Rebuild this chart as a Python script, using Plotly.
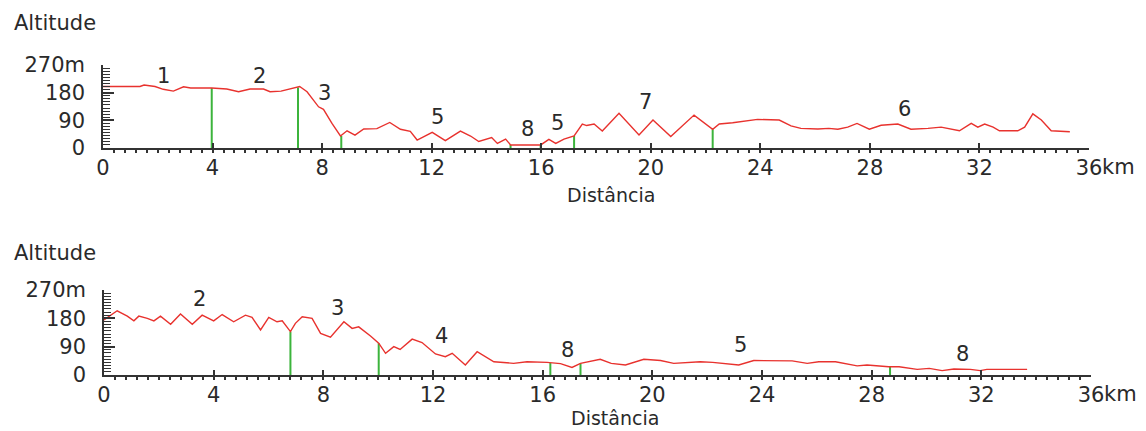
import plotly.graph_objects as go

# ---------- data: top profile ----------
top_km = [0, 1.35, 1.5, 1.9, 2.2, 2.57, 2.94, 3.2, 3.97, 4.52, 4.95, 5.37, 5.86, 6.1, 6.5, 6.96, 7.18,
          7.45, 7.87, 8.05, 8.36, 8.67, 8.91, 9.2, 9.52, 10.0, 10.47, 10.86, 11.22, 11.47, 11.75,
          12.02, 12.5, 13.05, 13.42, 13.72, 14.19, 14.4, 14.7, 14.88, 15.98, 16.28, 16.53, 16.83,
          17.2, 17.5, 17.66, 17.93, 18.23, 18.84, 19.57, 20.08, 20.73, 21.58, 22.26, 22.5, 22.99,
          23.47, 23.9, 24.69, 25.12, 25.48, 26.1, 26.5, 26.83, 27.19, 27.53, 27.98, 28.41, 29.02,
          29.5, 30.12, 30.6, 31.27, 31.7, 31.94, 32.19, 32.5, 32.73, 33.4, 33.65, 33.95, 34.26,
          34.62, 35.3]
top_alt = [200, 200, 205, 200, 191, 185, 199, 195, 195, 192, 183, 192, 192, 183, 185, 195, 200,
           183, 134, 126, 80, 39, 56, 42, 62, 63, 83, 61, 54, 26, 38,
           51, 24, 55, 39, 21, 34, 15, 29, 10, 10, 28, 15, 29,
           39, 78, 73, 78, 55, 113, 42, 91, 37, 107, 61, 78, 82,
           89, 93, 91, 72, 64, 62, 64, 61, 68, 80, 61, 74, 78,
           61, 64, 68, 56, 80, 68, 78, 68, 56, 56, 68, 111, 91,
           56, 53]
top_mark_km = [3.97, 7.12, 8.7, 14.88, 15.98, 17.2, 22.26]
top_mark_alt = [195, 197, 39, 10, 10, 39, 61]
top_lab_text = ["1", "2", "3", "5", "8", "5", "7", "6"]
top_lab_km = [2.2, 5.7, 8.1, 12.2, 15.5, 16.6, 19.8, 29.25]
top_lab_alt = [235, 235, 180, 100, 62, 80, 148, 128]

# ---------- data: bottom profile ----------
bot_km = [0, 0.48, 0.85, 1.09, 1.27, 1.58, 1.82, 2.06, 2.43, 2.79, 3.22, 3.58, 4.0, 4.31, 4.73,
          5.16, 5.4, 5.71, 6.01, 6.31, 6.5, 6.8, 6.98, 7.23, 7.59, 7.9, 8.26, 8.75, 9.05, 9.29,
          9.72, 10.02, 10.27, 10.57, 10.8, 11.24, 11.6, 12.09, 12.45, 12.7, 13.18, 13.61, 14.22,
          14.94, 15.43, 16.16, 16.65, 17.07, 17.38, 18.1, 18.5, 19.02, 19.69, 20.3, 20.78, 21.75,
          22.2, 23.15, 23.7, 24.6, 25.1, 25.65, 26.07, 26.68, 27.47, 27.83, 28.62, 29.0, 29.66,
          30.1, 30.57, 31.0, 31.6, 31.96, 32.2, 33.67]
bot_alt = [175, 204, 187, 172, 187, 180, 172, 187, 161, 194, 161, 190, 172, 192, 169,
           190, 183, 143, 183, 169, 172, 138, 164, 185, 180, 132, 120, 169, 148, 153,
           124, 101, 69, 90, 81, 114, 103, 67, 58, 69, 32, 74, 42,
           37, 42, 40, 36, 24, 37, 50, 37, 32, 50, 46, 37, 42,
           40, 32, 46, 45, 45, 37, 42, 42, 29, 32, 26, 26, 18,
           21, 14, 19, 18, 14, 18, 18]
bot_mark_km = [6.8, 10.02, 16.28, 17.38, 28.67]
bot_mark_alt = [138, 101, 38, 37, 26]
bot_lab_text = ["2", "3", "4", "8", "5", "8"]
bot_lab_km = [3.5, 8.5, 12.3, 16.9, 23.2, 31.3]
bot_lab_alt = [241, 213, 124, 79, 95, 67]

x_ticks = [0, 4, 8, 12, 16, 20, 24, 28, 32, 36]
x_ticktext = ["0", "4", "8", "12", "16", "20", "24", "28", "32", "36"]
y_ticks = [0, 90, 180, 270]
y_ticktext = ["0", "90", "180", "270m"]

RED = "#e8322e"
GREEN = "#3cb43c"
AX = "#333333"
TXT = "#2a2a2a"
FONT = "DejaVu Sans"
FS = 21

# page body has an 8px margin: the figure is offset by it inside the window
OFF = 8
W, H = 1146 - OFF, 431 - OFF


def fx(px):
    return (px - OFF) / W


def fy(py):
    return 1 - (py - OFF) / H


fig = go.Figure()


def vlines(xs, ys):
    X, Y = [], []
    for a, b in zip(xs, ys):
        X += [a, a, None]
        Y += [0, b, None]
    return X, Y


panels = [
    dict(km=top_km, alt=top_alt, mk=top_mark_km, ma=top_mark_alt, lt=top_lab_text,
         lx=top_lab_km, ly=top_lab_alt, xa="x", ya="y",
         px=(103, 1089), py=(148, 65), alt_y=23, dist_y=195, dist_x=611),
    dict(km=bot_km, alt=bot_alt, mk=bot_mark_km, ma=bot_mark_alt, lt=bot_lab_text,
         lx=bot_lab_km, ly=bot_lab_alt, xa="x2", ya="y2",
         px=(104, 1091), py=(375, 290), alt_y=253, dist_y=418, dist_x=615),
]

annotations = []
for i, p in enumerate(panels):
    gx, gy = vlines(p["mk"], p["ma"])
    fig.add_trace(go.Scatter(x=gx, y=gy, mode="lines", line=dict(color=GREEN, width=2),
                             xaxis=p["xa"], yaxis=p["ya"], hoverinfo="skip", showlegend=False))
    fig.add_trace(go.Scatter(x=p["km"], y=p["alt"], mode="lines", line=dict(color=RED, width=1.4),
                             xaxis=p["xa"], yaxis=p["ya"], showlegend=False))
    for t, a, b in zip(p["lt"], p["lx"], p["ly"]):
        annotations.append(dict(text=t, x=a, y=b, xref=p["xa"], yref=p["ya"], showarrow=False,
                                font=dict(family=FONT, size=FS, color=TXT)))
    annotations.append(dict(text="km", x=36, y=0, xref=p["xa"], yref=p["ya"], showarrow=False,
                            xanchor="left", yanchor="top", xshift=11, yshift=-5,
                            font=dict(family=FONT, size=FS, color=TXT)))
    annotations.append(dict(text="Altitude", x=fx(12), y=fy(p["alt_y"]), xref="paper",
                            yref="paper", xanchor="left", yanchor="middle", showarrow=False,
                            font=dict(family=FONT, size=FS, color=TXT)))
    annotations.append(dict(text="Distância", x=fx(p["dist_x"]), y=fy(p["dist_y"]),
                            xref="paper", yref="paper", xanchor="center", yanchor="middle",
                            showarrow=False, borderpad=0,
                            font=dict(family=FONT, size=19, color=TXT)))

    xkey = "xaxis" if i == 0 else "xaxis2"
    ykey = "yaxis" if i == 0 else "yaxis2"
    fig.update_layout(**{
        xkey: dict(domain=[fx(p["px"][0]), fx(p["px"][1])], range=[0, 36], anchor=p["ya"],
                   automargin=False,
                   tickvals=x_ticks, ticktext=x_ticktext, ticks="inside", ticklen=5,
                   tickwidth=1.5, tickcolor=AX, showline=True, linecolor=AX, linewidth=1.5,
                   showgrid=False, zeroline=False, ticklabelstandoff=0,
                   tickfont=dict(family=FONT, size=FS, color=TXT),
                   minor=dict(dtick=0.4, tick0=0, ticks="outside", ticklen=3, tickwidth=1.5,
                              tickcolor=AX, showgrid=False)),
        ykey: dict(domain=[fy(p["py"][0]), fy(p["py"][1])], range=[0, 270],
                   anchor=p["xa"], automargin=False,
                   tickvals=y_ticks, ticktext=y_ticktext, ticks="inside",
                   ticklen=11, tickwidth=1.5, tickcolor=AX, showline=True, linecolor=AX,
                   linewidth=1.5, showgrid=False, zeroline=False, ticklabelstandoff=12,
                   tickfont=dict(family=FONT, size=FS, color=TXT),
                   minor=dict(dtick=10, tick0=0, ticks="inside", ticklen=7, tickwidth=1,
                              tickcolor=AX, showgrid=False)),
    })

fig.update_layout(width=W, height=H, margin=dict(l=0, r=0, t=0, b=0, autoexpand=False),
                  paper_bgcolor="white", plot_bgcolor="white",
                  annotations=annotations, showlegend=False)

fig.write_html("out.html")
